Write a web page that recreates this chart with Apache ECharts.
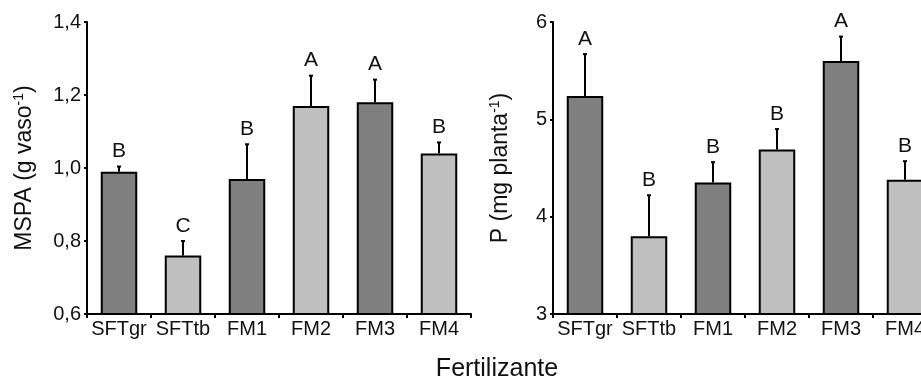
<!DOCTYPE html>
<html>
<head>
<meta charset="utf-8">
<script src="https://cdn.jsdelivr.net/npm/echarts@6/dist/echarts.min.js"></script>
<style>
  html, body { margin: 0; padding: 0; background: #fff; overflow: hidden; }
  /* the drawing is a little wider than the window: the last bar on the right runs off the edge */
  #chart { width: 940px; height: 381px; }
</style>
</head>
<body>
<div id="chart"></div>
<script>
// Fertilizer treatments (shared by both panels)
const categories = ['SFTgr', 'SFTtb', 'FM1', 'FM2', 'FM3', 'FM4'];

// Left panel: shoot dry mass (MSPA), g per pot
const mspaMean = [0.99, 0.76, 0.97, 1.17, 1.18, 1.04];
const mspaErr = [0.014, 0.04, 0.095, 0.083, 0.062, 0.03];
const mspaLetters = ['B', 'C', 'B', 'A', 'A', 'B'];
const mspaTicks = { min: 0.6, max: 1.4, step: 0.2 };

// Right panel: phosphorus content, mg per plant
const pMean = [5.24, 3.80, 4.35, 4.69, 5.60, 4.38];
const pErr = [0.43, 0.42, 0.21, 0.21, 0.25, 0.19];
const pLetters = ['A', 'B', 'B', 'B', 'A', 'B'];
const pTicks = { min: 3, max: 6, step: 1 };

const DARK = '#7f7f7f';
const LIGHT = '#bfbfbf';
const FONT = '"Liberation Sans", Arial, sans-serif';

function barData(values) {
  return values.map((v, i) => ({
    value: v,
    itemStyle: { color: i % 2 === 0 ? DARK : LIGHT }
  }));
}

function errData(values, errs, letters) {
  return values.map((v, i) => [i, v, v + errs[i], letters[i]]);
}

// Error whisker with a small cap, plus the significance letter above it
function renderErr(params, api) {
  const x = api.value(0);
  const base = api.coord([x, api.value(1)]);
  const top = api.coord([x, api.value(2)]);
  const letter = api.value(3);
  const cap = 2;
  const ls = { stroke: '#000', lineWidth: 2 };
  return {
    type: 'group',
    children: [
      { type: 'line', shape: { x1: base[0], y1: base[1], x2: top[0], y2: top[1] }, style: ls },
      { type: 'line', shape: { x1: top[0] - cap, y1: top[1], x2: top[0] + cap, y2: top[1] }, style: ls },
      {
        type: 'text',
        x: top[0], y: top[1] - 15,
        style: {
          text: letter, fill: '#111', font: '21px ' + FONT,
          align: 'center', verticalAlign: 'middle'
        }
      }
    ]
  };
}

function yAxis(grid, ticks, fmt, name, gap) {
  return {
    type: 'value', gridIndex: grid,
    min: ticks.min, max: ticks.max, interval: ticks.step,
    name: name, nameLocation: 'middle', nameGap: gap,
    nameTextStyle: {
      color: '#111', fontFamily: FONT, fontSize: 23,
      rich: {
        n: { fontSize: 23, fontFamily: FONT, color: '#111', lineHeight: 26 },
        s: { fontSize: 14, fontFamily: FONT, color: '#111', verticalAlign: 'top', lineHeight: 26 }
      }
    },
    axisLine: { show: true, lineStyle: { color: '#000', width: 2 } },
    axisTick: { show: true, length: 3, lineStyle: { color: '#000', width: 2 } },
    axisLabel: { color: '#111', fontFamily: FONT, fontSize: 20, margin: 6, formatter: fmt },
    splitLine: { show: false }
  };
}

function xAxis(grid) {
  return {
    type: 'category', gridIndex: grid, data: categories,
    axisLine: { lineStyle: { color: '#000', width: 2 } },
    axisTick: { show: true, length: 4, lineStyle: { color: '#000', width: 2 } },
    axisLabel: { color: '#111', fontFamily: FONT, fontSize: 20, margin: 5, interval: 0 }
  };
}

const chart = echarts.init(document.getElementById('chart'), null, { renderer: 'canvas' });
chart.setOption({
  animation: false,
  backgroundColor: '#fff',
  grid: [
    { left: 87, top: 22, width: 384, bottom: 67 },
    { left: 553, top: 22, width: 384, bottom: 67 }
  ],
  xAxis: [xAxis(0), xAxis(1)],
  yAxis: [
    yAxis(0, mspaTicks, v => v.toFixed(1).replace('.', ','), '{n|MSPA (g vaso}{s|-1}{n|)}', 49),
    yAxis(1, pTicks, v => String(Math.round(v)), '{n|P (mg planta}{s|-1}{n|)}', 39)
  ],
  graphic: [{
    type: 'text', x: 497, y: 369,
    style: { text: 'Fertilizante', fill: '#111', font: '25px ' + FONT, align: 'center', verticalAlign: 'middle' }
  }],
  series: [
    {
      type: 'bar', xAxisIndex: 0, yAxisIndex: 0, barWidth: '57%',
      data: barData(mspaMean),
      itemStyle: { borderColor: '#000', borderWidth: 2 }
    },
    {
      type: 'custom', xAxisIndex: 0, yAxisIndex: 0,
      renderItem: renderErr, data: errData(mspaMean, mspaErr, mspaLetters), z: 5
    },
    {
      type: 'bar', xAxisIndex: 1, yAxisIndex: 1, barWidth: '57%',
      data: barData(pMean),
      itemStyle: { borderColor: '#000', borderWidth: 2 }
    },
    {
      type: 'custom', xAxisIndex: 1, yAxisIndex: 1,
      renderItem: renderErr, data: errData(pMean, pErr, pLetters), z: 5
    }
  ]
});
</script>
</body>
</html>
